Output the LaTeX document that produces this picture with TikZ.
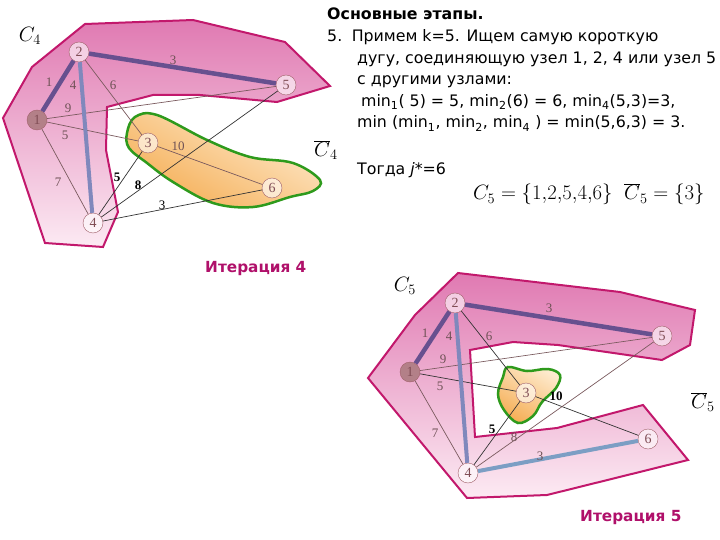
\documentclass[tikz,border=0pt]{standalone}
\usepackage{fontspec}
\setmainfont{DejaVu Sans}
\newfontfamily\grfont{Liberation Serif}
\usetikzlibrary{positioning}

\definecolor{regpink}{HTML}{E07AB2}
\definecolor{regpinklight}{HTML}{FCEAF3}
\definecolor{regborder}{HTML}{C2186C}
\definecolor{blobdark}{HTML}{F5AE55}
\definecolor{bloblight}{HTML}{FEEBCF}
\definecolor{blobborder}{HTML}{2E9A1C}
\definecolor{treepurple}{HTML}{67508F}
\definecolor{treeblue}{HTML}{8088BC}
\definecolor{treelight}{HTML}{7C9EC4}
\definecolor{edgebrown}{HTML}{7A5A5E}
\definecolor{nodebrown}{HTML}{A0606A}
\definecolor{iterred}{HTML}{B0106A}

\begin{document}
\begin{tikzpicture}[x=1pt,y=-1pt]
    % styles for the graph, the regions and the text
    \tikzset{
        vertex/.style={circle, draw=nodebrown, fill=white, fill opacity=0.6, text opacity=1,
                       inner sep=0pt, minimum size=20pt, font=\grfont\fontsize{14}{14}\selectfont, text=nodebrown!80!black},
        startvertex/.style={vertex, fill=nodebrown!80!white, fill opacity=1},
        thin edge/.style={draw=edgebrown, line width=0.7pt},
        dark edge/.style={draw=black!80, line width=0.7pt},
        tree edge/.style={draw=treepurple, line width=4.5pt},
        weight/.style={font=\grfont\fontsize{13}{13}\selectfont, text=edgebrown!90!black, inner sep=1pt},
        bold weight/.style={weight, font=\grfont\bfseries\fontsize{13}{13}\selectfont, text=black},
        region/.style={draw=regborder, line width=2pt, top color=regpink, bottom color=regpinklight},
        blob/.style={draw=blobborder, line width=2.5pt, top color=bloblight, bottom color=blobdark, shading angle=-30},
        setname/.style={font=\fontsize{22}{22}\selectfont},
        line/.style={anchor=base west, inner sep=0pt, font=\fontsize{15.8}{15.8}\selectfont},
        iteration/.style={font=\bfseries\fontsize{15.3}{15.3}\selectfont, text=iterred, anchor=base west, inner sep=0pt},
    }
    \useasboundingbox (0,0) rectangle (720,540);

    % ---------------- iteration 4 ----------------
    \path[region] (85,24) -- (193,20) -- (285,42) -- (330,86) -- (277,102) -- (200,95) -- (153,95)
        -- (107,107) -- (106,150) -- (118,212) -- (103,247) -- (45,243) -- (3,118) -- (32,67) -- cycle;
    \path[blob] plot[smooth cycle, tension=0.6] coordinates {(127,133) (135,117) (157,115) (207,140)
        (250,157) (293,163) (320,180) (313,191) (290,197) (253,207) (213,203) (173,182) (147,163) (129,148)};

    \node[startvertex] (a1) at (37,120) {1};
    \node[vertex] (a2) at (79,52) {2};
    \node[vertex] (a3) at (148,143) {3};
    \node[vertex] (a4) at (93,223) {4};
    \node[vertex] (a5) at (286,85) {5};
    \node[vertex] (a6) at (272,188) {6};

    \draw[thin edge] (a2) -- (a3);
    \draw[thin edge] (a1) -- (a5);
    \draw[thin edge] (a1) -- (a3);
    \draw[thin edge] (a1) -- (a4);
    \draw[thin edge] (a3) -- (a6);
    \draw[dark edge] (a3) -- (a4);
    \draw[dark edge] (a5) -- (a4);
    \draw[dark edge] (a4) -- (a6);
    \draw[tree edge] (a1) -- (a2);
    \draw[tree edge] (a2) -- (a5);
    \draw[tree edge, draw=treeblue, line width=4pt] (a2) -- (a4);

    \node[weight] (wa12) at (49,82) {1};
    \node[weight] (wa24) at (73,85) {4};
    \node[weight] (wa23) at (113,85) {6};
    \node[weight] (wa25) at (173,60) {3};
    \node[weight] (wa15) at (68,108) {9};
    \node[weight] (wa13) at (65,135) {5};
    \node[weight] (wa36) at (178,146) {10};
    \node[weight] (wa14) at (58,182) {7};
    \node[bold weight] (wa34) at (117,177) {5};
    \node[bold weight] (wa45) at (138,185) {8};
    \node[weight, text=black] (wa46) at (162,205) {3};

    \node[setname] (c4) at (30,36) {$C_4$};
    \node[setname] (cbar4) at (326,150) {$\overline{C}_4$};
    \node[iteration] (it4) at (205,272) {Итерация 4};

    % ---------------- iteration 5 ----------------
    \path[region] (458,273) -- (620,292) -- (695,310) -- (690,345) -- (662,360) -- (558,345) -- (513,342)
        -- (470,350) -- (475,437) -- (557,428) -- (643,405) -- (688,460) -- (547,495) -- (467,498)
        -- (368,378) -- (415,315) -- cycle;
    \path[blob] plot[smooth cycle, tension=0.6] coordinates {(508,367) (527,371) (548,369) (560,375)
        (556,388) (542,402) (533,416) (518,423) (504,410) (498,394) (503,377)};

    \begin{scope}[shift={(376,251)}]
    \node[startvertex] (b1) at (34,121) {1};
    \node[vertex] (b2) at (79,52) {2};
    \node[vertex] (b3) at (150,142) {3};
    \node[vertex] (b4) at (92,222) {4};
    \node[vertex] (b5) at (286,85) {5};
    \node[vertex] (b6) at (272,188) {6};

    \draw[dark edge] (b2) -- (b3);
    \draw[thin edge] (b1) -- (b5);
    \draw[dark edge] (b1) -- (b3);
    \draw[thin edge] (b1) -- (b4);
    \draw[dark edge] (b3) -- (b6);
    \draw[dark edge] (b3) -- (b4);
    \draw[thin edge] (b5) -- (b4);
    \draw[tree edge] (b1) -- (b2);
    \draw[tree edge] (b2) -- (b5);
    \draw[tree edge, draw=treeblue, line width=4pt] (b2) -- (b4);
    \draw[tree edge, draw=treelight, line width=4pt] (b4) -- (b6);

    \node[weight] (wb12) at (49,82) {1};
    \node[weight] (wb24) at (73,85) {4};
    \node[weight] (wb23) at (113,85) {6};
    \node[weight] (wb25) at (173,57) {3};
    \node[weight] (wb15) at (67,108) {9};
    \node[weight] (wb13) at (64,135) {5};
    \node[bold weight] (wb36) at (180,145) {10};
    \node[weight] (wb14) at (59,182) {7};
    \node[bold weight] (wb34) at (116,178) {5};
    \node[weight] (wb45) at (138,186) {8};
    \node[weight] (wb46) at (164,205) {3};
    \end{scope}

    \node[setname] (c5) at (405,286) {$C_5$};
    \node[setname] (cbar5) at (703,402) {$\overline{C}_5$};
    \node[iteration] (it5) at (580,521) {Итерация 5};

    % ---------------- text ----------------
    \node[line, font=\bfseries\fontsize{15.8}{15.8}\selectfont] (t0) at (327,20) {Основные этапы.};
    \node[line] (t1) at (327,41.6) {5.\hspace{0.6em}Примем k=5. Ищем самую короткую};
    \node[line] (t2) at (357,63.2) {дугу, соединяющую узел 1, 2, 4 или узел 5};
    \node[line] (t3) at (357,84.8) {с другими узлами:};
    \node[line] (t4) at (361,106.4) {min\textsubscript{1}( 5) = 5, min\textsubscript{2}(6) = 6, min\textsubscript{4}(5,3)=3,};
    \node[line] (t5) at (357,128) {min (min\textsubscript{1}, min\textsubscript{2}, min\textsubscript{4} ) = min(5,6,3) = 3.};
    \node[line] (t6) at (357,175) {Тогда \textit{j}*=6};
    \node[line, font=\fontsize{22}{22}\selectfont] (f1) at (473,200) {$C_5=\{1{,}2{,}5{,}4{,}6\}\;\;\overline{C}_5=\{3\}$};
\end{tikzpicture}
\end{document}
